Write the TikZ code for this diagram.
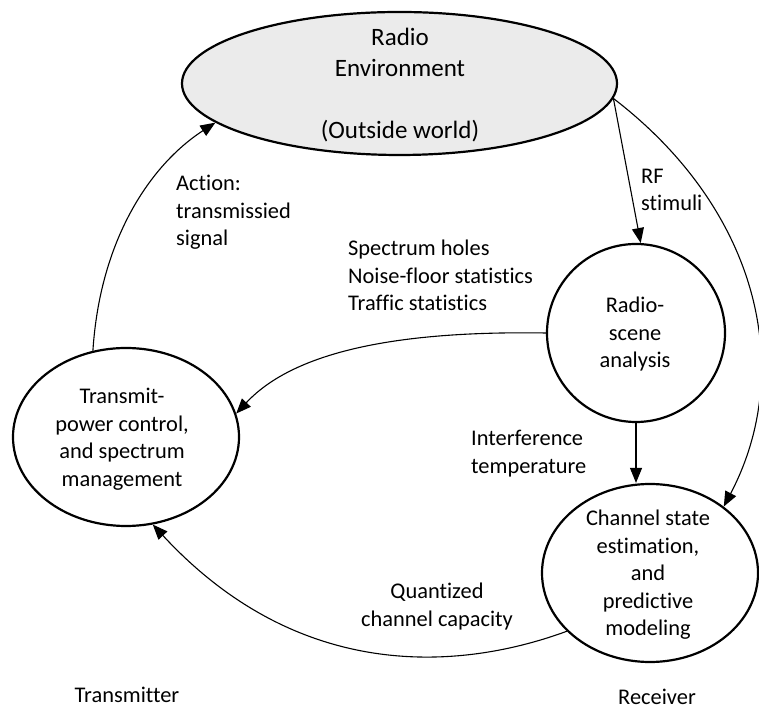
\documentclass[tikz,border=0pt]{standalone}
\usepackage{fontspec}
\setmainfont{Carlito}[Ligatures=NoCommon]
\usetikzlibrary{shapes.geometric,arrows.meta}
\definecolor{envfill}{RGB}{235,235,235}
\begin{document}
\begin{tikzpicture}[x=1pt,y=1pt,
  shapeline/.style={draw=black, line width=2.2pt, inner sep=0pt},
  txt/.style={font=\fontsize{22.4}{27.5}\selectfont, align=center, inner sep=0pt},
  ltxt/.style={font=\fontsize{22.4}{27.5}\selectfont, align=left, inner sep=0pt, anchor=west},
  conn/.style={line width=1.1pt, -{Triangle[length=15pt,width=12pt]}}
]
\useasboundingbox (0,0) rectangle (759,711);
% shapes
\node[shapeline, ellipse, fill=envfill, minimum width=435pt, minimum height=143pt] (env) at (399.5,627.5) {};
\node[shapeline, circle, minimum size=178pt] (rsa) at (636,378) {};
\node[shapeline, ellipse, minimum width=216pt, minimum height=178pt] (cse) at (650,138) {};
\node[shapeline, ellipse, minimum width=226pt, minimum height=178pt] (tpc) at (126,274) {};
% texts inside shapes
\node[txt, font=\fontsize{25}{31}\selectfont] (envt) at (400,625.5) {Radio\\Environment\\[31pt](Outside world)};
\node[txt] (rsat) at (635,376.5) {Radio-\\scene\\analysis};
\node[txt] (cset) at (648,136) {Channel state\\estimation,\\and\\predictive\\modeling};
\node[txt] (tpct) at (122,272) {Transmit-\\power control,\\and spectrum\\management};
% labels
\node[ltxt] (act) at (176,498.5) {Action:\\transmissied\\signal};
\node[ltxt] (rf) at (641,521) {RF\\stimuli};
\node[ltxt] (spec) at (348,435.5) {Spectrum holes\\Noise-floor statistics\\Traffic statistics};
\node[ltxt] (intf) at (471,257.5) {Interference\\temperature};
\node[txt] (quant) at (437,104.5) {Quantized\\channel capacity};
\node[txt] (tx) at (127,16) {Transmitter};
\node[txt] (rx) at (657,14) {Receiver};
% connectors
\draw[conn] (tpc.111) .. controls (100,471) and (150,546) .. (env.192);
\draw[conn] (env.-4) -- (rsa.87);
\draw[conn] (env.-4) .. controls (760,500) and (795,340) .. (cse.42);
\draw[conn] (rsa.180) .. controls (420,380) and (300,366) .. (tpc.12);
\draw[conn] (rsa.south) -- (rsa.south |- cse.north);
\draw[conn] (cse.215) .. controls (467,43) and (303,24) .. (tpc.287);
\end{tikzpicture}
\end{document}
